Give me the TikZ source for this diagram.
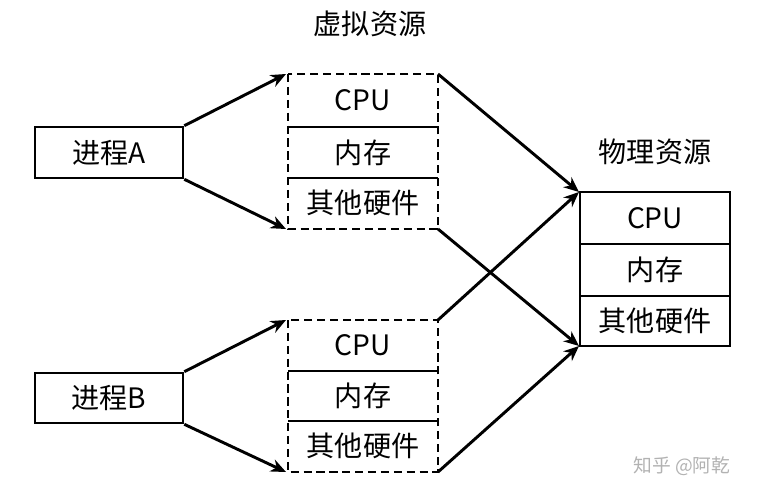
\documentclass[tikz,border=0pt]{standalone}
\usepackage{fontspec}
\setmainfont{Noto Sans CJK SC}
\usetikzlibrary{arrows.meta}
\begin{document}
\begin{tikzpicture}[x=0.03cm,y=-0.03cm,
  box/.style={draw,line width=2.2pt,inner sep=0pt},
  dbox/.style={draw,line width=2.2pt,dash pattern=on 7pt off 4pt},
  sep/.style={line width=2.2pt},
  txt/.style={font=\fontsize{24}{28}\selectfont},
  arr/.style={line width=2.5pt,-{Stealth[length=13pt,width=11pt]}}]
\useasboundingbox (0,0) rectangle (760,500);
% process boxes
\node[box,minimum width=148*0.03cm,minimum height=51*0.03cm,txt] (pa) at (109,152.5) {进程A};
\node[box,minimum width=148*0.03cm,minimum height=50*0.03cm,txt] (pb) at (109,398) {进程B};
% virtual A
\draw[dbox] (288,74) rectangle (438,229);
\draw[sep] (288,127) -- (438,127) (288,178) -- (438,178);
\node[txt] (va1) at (363,100) {CPU};
\node[txt] (va2) at (363,153) {内存};
\node[txt] (va3) at (363,203) {其他硬件};
% virtual B
\draw[dbox] (288,320) rectangle (438,472);
\draw[sep] (288,371) -- (438,371) (288,421) -- (438,421);
\node[txt] (vb1) at (363,345) {CPU};
\node[txt] (vb2) at (363,396) {内存};
\node[txt] (vb3) at (363,446) {其他硬件};
\node[txt] (vlab) at (370,24) {虚拟资源};
% physical
\draw[box] (580,192) rectangle (730,346);
\draw[sep] (580,244) -- (730,244) (580,296) -- (730,296);
\node[txt] (p1) at (655,218) {CPU};
\node[txt] (p2) at (655,270) {内存};
\node[txt] (p3) at (655,321) {其他硬件};
\node[txt] (plab) at (655,152) {物理资源};
% coordinates
\coordinate (vat) at (438,74); \coordinate (vab) at (438,229);
\coordinate (vbt) at (438,320); \coordinate (vbb) at (438,472);
\coordinate (pt) at (579,192); \coordinate (pbm) at (579,346);
\coordinate (vatl) at (286,74); \coordinate (vabl) at (286,229);
\coordinate (vbtl) at (286,320); \coordinate (vbbl) at (286,472);
\draw[arr] (pa.north east) -- (vatl);
\draw[arr] (pa.south east) -- (vabl);
\draw[arr] (pb.north east) -- (vbtl);
\draw[arr] (pb.south east) -- (vbbl);
\draw[arr] (vat) -- (pt);
\draw[arr] (vab) -- (pbm);
\draw[arr] (vbt) -- (pt);
\draw[arr] (vbb) -- (pbm);
\node[font=\fontsize{16}{18}\selectfont,text=gray!60] (wm) at (682,466) {知乎 @阿乾};
\end{tikzpicture}
\end{document}
